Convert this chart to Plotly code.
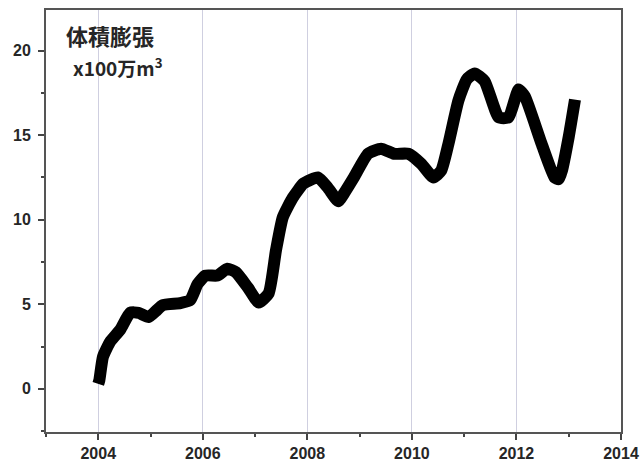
import plotly.graph_objects as go

years = [2004.00, 2004.02, 2004.09, 2004.23, 2004.42, 2004.61, 2004.77, 2004.96, 2005.10,
         2005.23, 2005.57, 2005.76, 2005.90, 2006.05, 2006.28, 2006.47, 2006.63, 2006.86,
         2007.07, 2007.26, 2007.40, 2007.53, 2007.72, 2007.93, 2008.20, 2008.39, 2008.59,
         2008.70, 2008.89, 2009.16, 2009.41, 2009.66, 2009.93, 2010.18, 2010.41, 2010.56,
         2010.70, 2010.89, 2011.05, 2011.20, 2011.39, 2011.66, 2011.85, 2012.04, 2012.16,
         2012.48, 2012.73, 2012.81, 2012.87, 2013.00, 2013.12]
volume = [0.3, 0.5, 1.9, 2.8, 3.5, 4.5, 4.5, 4.25, 4.6,
          4.95, 5.07, 5.25, 6.2, 6.7, 6.7, 7.1, 6.9, 6.0,
          5.1, 5.65, 8.2, 10.15, 11.3, 12.15, 12.5, 11.9, 11.1,
          11.55, 12.5, 13.9, 14.2, 13.9, 13.9, 13.3, 12.5, 12.9,
          14.5, 17.05, 18.3, 18.65, 18.2, 16.05, 16.05, 17.7, 17.3,
          14.5, 12.5, 12.4, 12.9, 14.9, 17.1]

x_ticks = [2004, 2006, 2008, 2010, 2012, 2014]
y_ticks = [0, 5, 10, 15, 20]

fig = go.Figure()
fig.add_trace(go.Scatter(
    x=years, y=volume, mode="lines",
    line=dict(color="black", width=12, shape="spline", smoothing=0.5),
    showlegend=False,
))

axis_font = dict(family="Liberation Sans, Arial", size=16, color="#262626")
fig.update_layout(
    width=643, height=472,
    margin=dict(l=46, r=22, t=10, b=40),
    paper_bgcolor="white", plot_bgcolor="white",
    xaxis=dict(
        range=[2003, 2014], tickvals=x_ticks, ticktext=[f"<b>{v}</b>" for v in x_ticks],
        ticks="outside", ticklen=6, tickcolor="#444", tickwidth=1.5, automargin=False,
        minor=dict(dtick=1, tick0=2003, ticks="outside", ticklen=3, tickcolor="#444", showgrid=False),
        showgrid=True, gridcolor="#cfcfe0", gridwidth=1,
        showline=True, linecolor="#555", linewidth=2, mirror=True,
        zeroline=False, tickfont=axis_font,
    ),
    yaxis=dict(
        range=[-2.55, 22.4], tickvals=y_ticks, ticktext=[f"<b>{v}</b>" for v in y_ticks],
        ticks="outside", ticklen=6, tickcolor="#444", tickwidth=1.5, automargin=False,
        ticklabelstandoff=4,
        minor=dict(dtick=2.5, tick0=0, ticks="outside", ticklen=3, tickcolor="#444", showgrid=False),
        showgrid=False, showline=True, linecolor="#555", linewidth=2, mirror=True,
        zeroline=False, tickfont=axis_font,
    ),
    annotations=[
        dict(xref="paper", yref="paper", x=0.032, y=0.983, xanchor="left", yanchor="top",
             text="<b>体積膨張</b>", showarrow=False,
             font=dict(family="Noto Sans CJK JP", size=22, color="#262626")),
        dict(xref="paper", yref="paper", x=0.044, y=0.903, xanchor="left", yanchor="top",
             text="<b>x100万m<sup>3</sup></b>", showarrow=False,
             font=dict(family="Noto Sans CJK JP", size=19, color="#262626")),
    ],
)
fig.write_html("out.html")
